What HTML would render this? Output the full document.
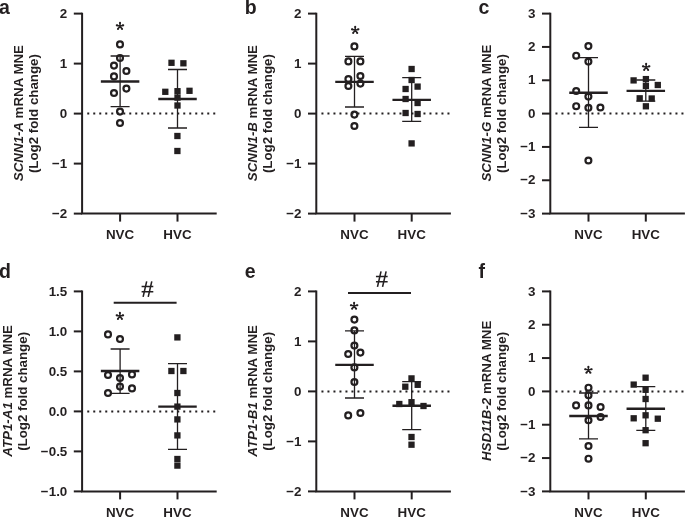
<!DOCTYPE html><html><head><meta charset="utf-8"><style>html,body{margin:0;padding:0;background:#fff;}svg{display:block;will-change:transform}text{font-family:"Liberation Sans",sans-serif;fill:#231f20;}</style></head><body>
<svg width="685" height="517" viewBox="0 0 685 517">
<rect width="685" height="517" fill="#fff"/>
<g><text x="-0.9" y="13.9" font-size="19.5" font-weight="bold">a</text><path d="M82.1 12.7V213.6H216.7" fill="none" stroke="#231f20" stroke-width="2.0" stroke-linejoin="miter"/><path d="M73.8 13.6H82.1" stroke="#231f20" stroke-width="2.0"/><text x="67.3" y="17.8" font-size="13.4" font-weight="bold" text-anchor="end">2</text><path d="M73.8 63.6H82.1" stroke="#231f20" stroke-width="2.0"/><text x="67.3" y="67.8" font-size="13.4" font-weight="bold" text-anchor="end">1</text><path d="M73.8 113.6H82.1" stroke="#231f20" stroke-width="2.0"/><text x="67.3" y="117.8" font-size="13.4" font-weight="bold" text-anchor="end">0</text><path d="M73.8 163.6H82.1" stroke="#231f20" stroke-width="2.0"/><text x="67.3" y="167.8" font-size="13.4" font-weight="bold" text-anchor="end">−1</text><path d="M73.8 213.6H82.1" stroke="#231f20" stroke-width="2.0"/><text x="67.3" y="217.8" font-size="13.4" font-weight="bold" text-anchor="end">−2</text><path d="M120.1 213.6V221.6" stroke="#231f20" stroke-width="2.0"/><text x="120.1" y="238.7" font-size="13.4" font-weight="bold" text-anchor="middle">NVC</text><path d="M177.5 213.6V221.6" stroke="#231f20" stroke-width="2.0"/><text x="177.5" y="238.7" font-size="13.4" font-weight="bold" text-anchor="middle">HVC</text><text transform="translate(22.9 113.1) rotate(-90)" font-size="13.3" font-weight="bold" text-anchor="middle"><tspan font-style="italic">SCNN1-A</tspan> mRNA MNE</text><text transform="translate(38.1 113.6) rotate(-90)" font-size="13.3" font-weight="bold" text-anchor="middle">(Log2 fold change)</text><path d="M87.25 113.6H216.7" stroke="#231f20" stroke-width="2" stroke-dasharray="2 4"/><g fill="#231f20"><path d="M120.5 26.2L121 22.8L119 22.8L119.5 26.2ZM120.14 26.68L123.54 26.22L122.99 24.3L119.86 25.72ZM119.6 26.5L121.25 29.52L122.84 28.31L120.4 25.9ZM119.6 25.9L117.16 28.31L118.75 29.52L120.4 26.5ZM120.14 25.72L117.01 24.3L116.46 26.22L119.86 26.68Z"/><circle cx="120" cy="22.8" r="1.0"/><circle cx="123.27" cy="25.26" r="1.0"/><circle cx="122.05" cy="28.92" r="1.0"/><circle cx="117.95" cy="28.92" r="1.0"/><circle cx="116.73" cy="25.26" r="1.0"/></g><path d="M120.1 56V106.6M110.6 56H129.6M110.6 106.6H129.6" stroke="#231f20" stroke-width="1.3" fill="none"/><path d="M177.5 69.5V128M168 69.5H187M168 128H187" stroke="#231f20" stroke-width="1.3" fill="none"/><circle cx="120" cy="44.4" r="2.95" fill="none" stroke="#231f20" stroke-width="2.2"/><circle cx="120" cy="58" r="2.95" fill="none" stroke="#231f20" stroke-width="2.2"/><circle cx="114" cy="65.6" r="2.95" fill="none" stroke="#231f20" stroke-width="2.2"/><circle cx="126.4" cy="71" r="2.95" fill="none" stroke="#231f20" stroke-width="2.2"/><circle cx="114" cy="76.4" r="2.95" fill="none" stroke="#231f20" stroke-width="2.2"/><circle cx="126.4" cy="88.6" r="2.95" fill="none" stroke="#231f20" stroke-width="2.2"/><circle cx="114" cy="93" r="2.95" fill="none" stroke="#231f20" stroke-width="2.2"/><circle cx="120" cy="111.6" r="2.95" fill="none" stroke="#231f20" stroke-width="2.2"/><circle cx="120" cy="123" r="2.95" fill="none" stroke="#231f20" stroke-width="2.2"/><rect x="168.35" y="59.65" width="6.3" height="6.3" fill="#231f20"/><rect x="180.25" y="60.15" width="6.3" height="6.3" fill="#231f20"/><rect x="162.15" y="88.65" width="6.3" height="6.3" fill="#231f20"/><rect x="174.35" y="88.05" width="6.3" height="6.3" fill="#231f20"/><rect x="186.35" y="87.65" width="6.3" height="6.3" fill="#231f20"/><rect x="174.35" y="94.45" width="6.3" height="6.3" fill="#231f20"/><rect x="174.35" y="102.35" width="6.3" height="6.3" fill="#231f20"/><rect x="174.25" y="132.85" width="6.3" height="6.3" fill="#231f20"/><rect x="174.25" y="147.85" width="6.3" height="6.3" fill="#231f20"/><path d="M100.85 81.5H139.35" stroke="#231f20" stroke-width="2.4"/><path d="M158.25 99H196.75" stroke="#231f20" stroke-width="2.4"/></g>
<g><text x="244.7" y="13.9" font-size="19.5" font-weight="bold">b</text><path d="M316.3 12.7V213.6H450.9" fill="none" stroke="#231f20" stroke-width="2.0" stroke-linejoin="miter"/><path d="M308 13.6H316.3" stroke="#231f20" stroke-width="2.0"/><text x="301.5" y="17.8" font-size="13.4" font-weight="bold" text-anchor="end">2</text><path d="M308 63.6H316.3" stroke="#231f20" stroke-width="2.0"/><text x="301.5" y="67.8" font-size="13.4" font-weight="bold" text-anchor="end">1</text><path d="M308 113.6H316.3" stroke="#231f20" stroke-width="2.0"/><text x="301.5" y="117.8" font-size="13.4" font-weight="bold" text-anchor="end">0</text><path d="M308 163.6H316.3" stroke="#231f20" stroke-width="2.0"/><text x="301.5" y="167.8" font-size="13.4" font-weight="bold" text-anchor="end">−1</text><path d="M308 213.6H316.3" stroke="#231f20" stroke-width="2.0"/><text x="301.5" y="217.8" font-size="13.4" font-weight="bold" text-anchor="end">−2</text><path d="M354.5 213.6V221.6" stroke="#231f20" stroke-width="2.0"/><text x="354.5" y="238.7" font-size="13.4" font-weight="bold" text-anchor="middle">NVC</text><path d="M411.7 213.6V221.6" stroke="#231f20" stroke-width="2.0"/><text x="411.7" y="238.7" font-size="13.4" font-weight="bold" text-anchor="middle">HVC</text><text transform="translate(257.1 113.1) rotate(-90)" font-size="13.3" font-weight="bold" text-anchor="middle"><tspan font-style="italic">SCNN1-B</tspan> mRNA MNE</text><text transform="translate(272.3 113.6) rotate(-90)" font-size="13.3" font-weight="bold" text-anchor="middle">(Log2 fold change)</text><path d="M321.45 113.6H450.9" stroke="#231f20" stroke-width="2" stroke-dasharray="2 4"/><g fill="#231f20"><path d="M355.7 30.2L356.2 26.8L354.2 26.8L354.7 30.2ZM355.34 30.68L358.74 30.22L358.19 28.3L355.06 29.72ZM354.8 30.5L356.45 33.52L358.04 32.31L355.6 29.9ZM354.8 29.9L352.36 32.31L353.95 33.52L355.6 30.5ZM355.34 29.72L352.21 28.3L351.66 30.22L355.06 30.68Z"/><circle cx="355.2" cy="26.8" r="1.0"/><circle cx="358.47" cy="29.26" r="1.0"/><circle cx="357.25" cy="32.92" r="1.0"/><circle cx="353.15" cy="32.92" r="1.0"/><circle cx="351.93" cy="29.26" r="1.0"/></g><path d="M354.5 56.4V107M345 56.4H364M345 107H364" stroke="#231f20" stroke-width="1.3" fill="none"/><path d="M411.7 77.6V121.4M402.2 77.6H421.2M402.2 121.4H421.2" stroke="#231f20" stroke-width="1.3" fill="none"/><circle cx="354.4" cy="46.4" r="2.95" fill="none" stroke="#231f20" stroke-width="2.2"/><circle cx="348.4" cy="61.4" r="2.95" fill="none" stroke="#231f20" stroke-width="2.2"/><circle cx="360.4" cy="61.4" r="2.95" fill="none" stroke="#231f20" stroke-width="2.2"/><circle cx="360.4" cy="76" r="2.95" fill="none" stroke="#231f20" stroke-width="2.2"/><circle cx="348.4" cy="79" r="2.95" fill="none" stroke="#231f20" stroke-width="2.2"/><circle cx="360.4" cy="83.6" r="2.95" fill="none" stroke="#231f20" stroke-width="2.2"/><circle cx="348.4" cy="86" r="2.95" fill="none" stroke="#231f20" stroke-width="2.2"/><circle cx="354.4" cy="114.6" r="2.95" fill="none" stroke="#231f20" stroke-width="2.2"/><circle cx="354.4" cy="126" r="2.95" fill="none" stroke="#231f20" stroke-width="2.2"/><rect x="408.45" y="65.85" width="6.3" height="6.3" fill="#231f20"/><rect x="408.45" y="76.85" width="6.3" height="6.3" fill="#231f20"/><rect x="402.45" y="85.85" width="6.3" height="6.3" fill="#231f20"/><rect x="414.45" y="83.45" width="6.3" height="6.3" fill="#231f20"/><rect x="402.45" y="95.85" width="6.3" height="6.3" fill="#231f20"/><rect x="414.45" y="99.85" width="6.3" height="6.3" fill="#231f20"/><rect x="402.45" y="109.85" width="6.3" height="6.3" fill="#231f20"/><rect x="414.45" y="110.85" width="6.3" height="6.3" fill="#231f20"/><rect x="408.45" y="140.25" width="6.3" height="6.3" fill="#231f20"/><path d="M335.25 81.85H373.75" stroke="#231f20" stroke-width="2.4"/><path d="M392.45 99.85H430.95" stroke="#231f20" stroke-width="2.4"/></g>
<g><text x="478.6" y="13.9" font-size="19.5" font-weight="bold">c</text><path d="M550.3 12.7V213.6H684.9" fill="none" stroke="#231f20" stroke-width="2.0" stroke-linejoin="miter"/><path d="M542 13.6H550.3" stroke="#231f20" stroke-width="2.0"/><text x="535.5" y="17.8" font-size="13.4" font-weight="bold" text-anchor="end">3</text><path d="M542 46.93H550.3" stroke="#231f20" stroke-width="2.0"/><text x="535.5" y="51.13" font-size="13.4" font-weight="bold" text-anchor="end">2</text><path d="M542 80.27H550.3" stroke="#231f20" stroke-width="2.0"/><text x="535.5" y="84.47" font-size="13.4" font-weight="bold" text-anchor="end">1</text><path d="M542 113.6H550.3" stroke="#231f20" stroke-width="2.0"/><text x="535.5" y="117.8" font-size="13.4" font-weight="bold" text-anchor="end">0</text><path d="M542 146.93H550.3" stroke="#231f20" stroke-width="2.0"/><text x="535.5" y="151.13" font-size="13.4" font-weight="bold" text-anchor="end">−1</text><path d="M542 180.27H550.3" stroke="#231f20" stroke-width="2.0"/><text x="535.5" y="184.47" font-size="13.4" font-weight="bold" text-anchor="end">−2</text><path d="M542 213.6H550.3" stroke="#231f20" stroke-width="2.0"/><text x="535.5" y="217.8" font-size="13.4" font-weight="bold" text-anchor="end">−3</text><path d="M588.5 213.6V221.6" stroke="#231f20" stroke-width="2.0"/><text x="588.5" y="238.7" font-size="13.4" font-weight="bold" text-anchor="middle">NVC</text><path d="M645.8 213.6V221.6" stroke="#231f20" stroke-width="2.0"/><text x="645.8" y="238.7" font-size="13.4" font-weight="bold" text-anchor="middle">HVC</text><text transform="translate(491.1 113.1) rotate(-90)" font-size="13.3" font-weight="bold" text-anchor="middle"><tspan font-style="italic">SCNN1-G</tspan> mRNA MNE</text><text transform="translate(506.3 113.6) rotate(-90)" font-size="13.3" font-weight="bold" text-anchor="middle">(Log2 fold change)</text><path d="M555.45 113.6H684.9" stroke="#231f20" stroke-width="2" stroke-dasharray="2 4"/><g fill="#231f20"><path d="M646.65 67.2L647.15 63.8L645.15 63.8L645.65 67.2ZM646.29 67.68L649.69 67.22L649.14 65.3L646.01 66.72ZM645.75 67.5L647.4 70.52L648.99 69.31L646.55 66.9ZM645.75 66.9L643.31 69.31L644.9 70.52L646.55 67.5ZM646.29 66.72L643.16 65.3L642.61 67.22L646.01 67.68Z"/><circle cx="646.15" cy="63.8" r="1.0"/><circle cx="649.42" cy="66.26" r="1.0"/><circle cx="648.2" cy="69.92" r="1.0"/><circle cx="644.1" cy="69.92" r="1.0"/><circle cx="642.88" cy="66.26" r="1.0"/></g><path d="M588.5 57.6V127.4M579 57.6H598M579 127.4H598" stroke="#231f20" stroke-width="1.3" fill="none"/><path d="M645.8 80V101.2M636.3 80H655.3M636.3 101.2H655.3" stroke="#231f20" stroke-width="1.3" fill="none"/><circle cx="588.4" cy="46.1" r="2.95" fill="none" stroke="#231f20" stroke-width="2.2"/><circle cx="576.2" cy="55.7" r="2.95" fill="none" stroke="#231f20" stroke-width="2.2"/><circle cx="588.4" cy="61.6" r="2.95" fill="none" stroke="#231f20" stroke-width="2.2"/><circle cx="576.2" cy="91" r="2.95" fill="none" stroke="#231f20" stroke-width="2.2"/><circle cx="588.4" cy="96.6" r="2.95" fill="none" stroke="#231f20" stroke-width="2.2"/><circle cx="576.2" cy="106.2" r="2.95" fill="none" stroke="#231f20" stroke-width="2.2"/><circle cx="588.4" cy="107.8" r="2.95" fill="none" stroke="#231f20" stroke-width="2.2"/><circle cx="600.4" cy="107.5" r="2.95" fill="none" stroke="#231f20" stroke-width="2.2"/><circle cx="588.4" cy="160.5" r="2.95" fill="none" stroke="#231f20" stroke-width="2.2"/><rect x="630.45" y="77.25" width="6.3" height="6.3" fill="#231f20"/><rect x="642.75" y="75.95" width="6.3" height="6.3" fill="#231f20"/><rect x="642.75" y="82.75" width="6.3" height="6.3" fill="#231f20"/><rect x="654.65" y="81.85" width="6.3" height="6.3" fill="#231f20"/><rect x="636.55" y="95.15" width="6.3" height="6.3" fill="#231f20"/><rect x="648.55" y="95.35" width="6.3" height="6.3" fill="#231f20"/><rect x="642.75" y="103.15" width="6.3" height="6.3" fill="#231f20"/><path d="M569.25 92.7H607.75" stroke="#231f20" stroke-width="2.4"/><path d="M626.55 90.9H665.05" stroke="#231f20" stroke-width="2.4"/></g>
<g><text x="-0.9" y="278.2" font-size="19.5" font-weight="bold">d</text><path d="M82.1 290.5V491.4H216.7" fill="none" stroke="#231f20" stroke-width="2.0" stroke-linejoin="miter"/><path d="M73.8 291.4H82.1" stroke="#231f20" stroke-width="2.0"/><text x="67.3" y="295.6" font-size="13.4" font-weight="bold" text-anchor="end">1.5</text><path d="M73.8 331.4H82.1" stroke="#231f20" stroke-width="2.0"/><text x="67.3" y="335.6" font-size="13.4" font-weight="bold" text-anchor="end">1.0</text><path d="M73.8 371.4H82.1" stroke="#231f20" stroke-width="2.0"/><text x="67.3" y="375.6" font-size="13.4" font-weight="bold" text-anchor="end">0.5</text><path d="M73.8 411.4H82.1" stroke="#231f20" stroke-width="2.0"/><text x="67.3" y="415.6" font-size="13.4" font-weight="bold" text-anchor="end">0.0</text><path d="M73.8 451.4H82.1" stroke="#231f20" stroke-width="2.0"/><text x="67.3" y="455.6" font-size="13.4" font-weight="bold" text-anchor="end">−0.5</text><path d="M73.8 491.4H82.1" stroke="#231f20" stroke-width="2.0"/><text x="67.3" y="495.6" font-size="13.4" font-weight="bold" text-anchor="end">−1.0</text><path d="M120.1 491.4V499.4" stroke="#231f20" stroke-width="2.0"/><text x="120.1" y="516.5" font-size="13.4" font-weight="bold" text-anchor="middle">NVC</text><path d="M177.5 491.4V499.4" stroke="#231f20" stroke-width="2.0"/><text x="177.5" y="516.5" font-size="13.4" font-weight="bold" text-anchor="middle">HVC</text><text transform="translate(11.6 390.9) rotate(-90)" font-size="13.3" font-weight="bold" text-anchor="middle"><tspan font-style="italic">ATP1-A1</tspan> mRNA MNE</text><text transform="translate(26.8 391.4) rotate(-90)" font-size="13.3" font-weight="bold" text-anchor="middle">(Log2 fold change)</text><path d="M87.25 411.4H216.7" stroke="#231f20" stroke-width="2" stroke-dasharray="2 4"/><path d="M113.7 302.8H176.6" stroke="#231f20" stroke-width="2"/><path d="M146.68 281.3L143.12 296.8M151.78 281.3L148.22 296.8M141.6 286.4H153.3M141.6 291.8H153.3" stroke="#231f20" stroke-width="1.55" fill="none"/><g fill="#231f20"><path d="M120.4 316.2L120.9 312.8L118.9 312.8L119.4 316.2ZM120.04 316.68L123.44 316.22L122.89 314.3L119.76 315.72ZM119.5 316.5L121.15 319.52L122.74 318.31L120.3 315.9ZM119.5 315.9L117.06 318.31L118.65 319.52L120.3 316.5ZM120.04 315.72L116.91 314.3L116.36 316.22L119.76 316.68Z"/><circle cx="119.9" cy="312.8" r="1.0"/><circle cx="123.17" cy="315.26" r="1.0"/><circle cx="121.95" cy="318.92" r="1.0"/><circle cx="117.85" cy="318.92" r="1.0"/><circle cx="116.63" cy="315.26" r="1.0"/></g><path d="M120.1 349V393.4M110.6 349H129.6M110.6 393.4H129.6" stroke="#231f20" stroke-width="1.3" fill="none"/><path d="M177.5 363.6V449.4M168 363.6H187M168 449.4H187" stroke="#231f20" stroke-width="1.3" fill="none"/><circle cx="108" cy="334.4" r="2.95" fill="none" stroke="#231f20" stroke-width="2.2"/><circle cx="120" cy="339" r="2.95" fill="none" stroke="#231f20" stroke-width="2.2"/><circle cx="108" cy="375" r="2.95" fill="none" stroke="#231f20" stroke-width="2.2"/><circle cx="120" cy="378" r="2.95" fill="none" stroke="#231f20" stroke-width="2.2"/><circle cx="132" cy="374.4" r="2.95" fill="none" stroke="#231f20" stroke-width="2.2"/><circle cx="120" cy="386.6" r="2.95" fill="none" stroke="#231f20" stroke-width="2.2"/><circle cx="132" cy="388.4" r="2.95" fill="none" stroke="#231f20" stroke-width="2.2"/><circle cx="108" cy="393" r="2.95" fill="none" stroke="#231f20" stroke-width="2.2"/><rect x="174.25" y="334.25" width="6.3" height="6.3" fill="#231f20"/><rect x="168.25" y="367.85" width="6.3" height="6.3" fill="#231f20"/><rect x="180.25" y="367.85" width="6.3" height="6.3" fill="#231f20"/><rect x="174.25" y="389.85" width="6.3" height="6.3" fill="#231f20"/><rect x="174.25" y="403.45" width="6.3" height="6.3" fill="#231f20"/><rect x="174.25" y="416.25" width="6.3" height="6.3" fill="#231f20"/><rect x="174.25" y="432.25" width="6.3" height="6.3" fill="#231f20"/><rect x="174.25" y="455.85" width="6.3" height="6.3" fill="#231f20"/><rect x="174.25" y="462.45" width="6.3" height="6.3" fill="#231f20"/><path d="M100.85 371H139.35" stroke="#231f20" stroke-width="2.4"/><path d="M158.25 406.6H196.75" stroke="#231f20" stroke-width="2.4"/></g>
<g><text x="244.7" y="278.2" font-size="19.5" font-weight="bold">e</text><path d="M316.3 290.5V491.4H450.9" fill="none" stroke="#231f20" stroke-width="2.0" stroke-linejoin="miter"/><path d="M308 291.4H316.3" stroke="#231f20" stroke-width="2.0"/><text x="301.5" y="295.6" font-size="13.4" font-weight="bold" text-anchor="end">2</text><path d="M308 341.4H316.3" stroke="#231f20" stroke-width="2.0"/><text x="301.5" y="345.6" font-size="13.4" font-weight="bold" text-anchor="end">1</text><path d="M308 391.4H316.3" stroke="#231f20" stroke-width="2.0"/><text x="301.5" y="395.6" font-size="13.4" font-weight="bold" text-anchor="end">0</text><path d="M308 441.4H316.3" stroke="#231f20" stroke-width="2.0"/><text x="301.5" y="445.6" font-size="13.4" font-weight="bold" text-anchor="end">−1</text><path d="M308 491.4H316.3" stroke="#231f20" stroke-width="2.0"/><text x="301.5" y="495.6" font-size="13.4" font-weight="bold" text-anchor="end">−2</text><path d="M354.5 491.4V499.4" stroke="#231f20" stroke-width="2.0"/><text x="354.5" y="516.5" font-size="13.4" font-weight="bold" text-anchor="middle">NVC</text><path d="M411.7 491.4V499.4" stroke="#231f20" stroke-width="2.0"/><text x="411.7" y="516.5" font-size="13.4" font-weight="bold" text-anchor="middle">HVC</text><text transform="translate(257.1 390.9) rotate(-90)" font-size="13.3" font-weight="bold" text-anchor="middle"><tspan font-style="italic">ATP1-B1</tspan> mRNA MNE</text><text transform="translate(272.3 391.4) rotate(-90)" font-size="13.3" font-weight="bold" text-anchor="middle">(Log2 fold change)</text><path d="M321.45 391.4H450.9" stroke="#231f20" stroke-width="2" stroke-dasharray="2 4"/><path d="M348 292.95H411" stroke="#231f20" stroke-width="2"/><path d="M381.03 271.3L377.47 286.8M386.13 271.3L382.57 286.8M375.95 276.4H387.65M375.95 281.8H387.65" stroke="#231f20" stroke-width="1.55" fill="none"/><g fill="#231f20"><path d="M354.6 306.1L355.1 302.7L353.1 302.7L353.6 306.1ZM354.24 306.58L357.64 306.12L357.09 304.2L353.96 305.62ZM353.7 306.4L355.35 309.42L356.94 308.21L354.5 305.8ZM353.7 305.8L351.26 308.21L352.85 309.42L354.5 306.4ZM354.24 305.62L351.11 304.2L350.56 306.12L353.96 306.58Z"/><circle cx="354.1" cy="302.7" r="1.0"/><circle cx="357.37" cy="305.16" r="1.0"/><circle cx="356.15" cy="308.82" r="1.0"/><circle cx="352.05" cy="308.82" r="1.0"/><circle cx="350.83" cy="305.16" r="1.0"/></g><path d="M354.5 330.8V398M345 330.8H364M345 398H364" stroke="#231f20" stroke-width="1.3" fill="none"/><path d="M411.7 381.6V429.6M402.2 381.6H421.2M402.2 429.6H421.2" stroke="#231f20" stroke-width="1.3" fill="none"/><circle cx="354.4" cy="319.6" r="2.95" fill="none" stroke="#231f20" stroke-width="2.2"/><circle cx="354.4" cy="330.4" r="2.95" fill="none" stroke="#231f20" stroke-width="2.2"/><circle cx="354.4" cy="345.6" r="2.95" fill="none" stroke="#231f20" stroke-width="2.2"/><circle cx="348.2" cy="354" r="2.95" fill="none" stroke="#231f20" stroke-width="2.2"/><circle cx="360.4" cy="352.6" r="2.95" fill="none" stroke="#231f20" stroke-width="2.2"/><circle cx="354.4" cy="367.4" r="2.95" fill="none" stroke="#231f20" stroke-width="2.2"/><circle cx="354.4" cy="382" r="2.95" fill="none" stroke="#231f20" stroke-width="2.2"/><circle cx="348.2" cy="415.4" r="2.95" fill="none" stroke="#231f20" stroke-width="2.2"/><circle cx="360.4" cy="413" r="2.95" fill="none" stroke="#231f20" stroke-width="2.2"/><rect x="408.35" y="375.25" width="6.3" height="6.3" fill="#231f20"/><rect x="402.15" y="383.55" width="6.3" height="6.3" fill="#231f20"/><rect x="414.55" y="381.65" width="6.3" height="6.3" fill="#231f20"/><rect x="396.15" y="400.85" width="6.3" height="6.3" fill="#231f20"/><rect x="408.35" y="399.05" width="6.3" height="6.3" fill="#231f20"/><rect x="420.35" y="402.85" width="6.3" height="6.3" fill="#231f20"/><rect x="408.35" y="433.85" width="6.3" height="6.3" fill="#231f20"/><rect x="408.35" y="441.55" width="6.3" height="6.3" fill="#231f20"/><path d="M335.25 364.85H373.75" stroke="#231f20" stroke-width="2.4"/><path d="M392.45 405.8H430.95" stroke="#231f20" stroke-width="2.4"/></g>
<g><text x="478.6" y="278.2" font-size="19.5" font-weight="bold">f</text><path d="M550.3 290.5V491.4H684.9" fill="none" stroke="#231f20" stroke-width="2.0" stroke-linejoin="miter"/><path d="M542 291.4H550.3" stroke="#231f20" stroke-width="2.0"/><text x="535.5" y="295.6" font-size="13.4" font-weight="bold" text-anchor="end">3</text><path d="M542 324.73H550.3" stroke="#231f20" stroke-width="2.0"/><text x="535.5" y="328.93" font-size="13.4" font-weight="bold" text-anchor="end">2</text><path d="M542 358.07H550.3" stroke="#231f20" stroke-width="2.0"/><text x="535.5" y="362.27" font-size="13.4" font-weight="bold" text-anchor="end">1</text><path d="M542 391.4H550.3" stroke="#231f20" stroke-width="2.0"/><text x="535.5" y="395.6" font-size="13.4" font-weight="bold" text-anchor="end">0</text><path d="M542 424.73H550.3" stroke="#231f20" stroke-width="2.0"/><text x="535.5" y="428.93" font-size="13.4" font-weight="bold" text-anchor="end">−1</text><path d="M542 458.07H550.3" stroke="#231f20" stroke-width="2.0"/><text x="535.5" y="462.27" font-size="13.4" font-weight="bold" text-anchor="end">−2</text><path d="M542 491.4H550.3" stroke="#231f20" stroke-width="2.0"/><text x="535.5" y="495.6" font-size="13.4" font-weight="bold" text-anchor="end">−3</text><path d="M588.5 491.4V499.4" stroke="#231f20" stroke-width="2.0"/><text x="588.5" y="516.5" font-size="13.4" font-weight="bold" text-anchor="middle">NVC</text><path d="M645.8 491.4V499.4" stroke="#231f20" stroke-width="2.0"/><text x="645.8" y="516.5" font-size="13.4" font-weight="bold" text-anchor="middle">HVC</text><text transform="translate(491.1 390.9) rotate(-90)" font-size="13.3" font-weight="bold" text-anchor="middle"><tspan font-style="italic">HSD11B-2</tspan> mRNA MNE</text><text transform="translate(506.3 391.4) rotate(-90)" font-size="13.3" font-weight="bold" text-anchor="middle">(Log2 fold change)</text><path d="M555.45 391.4H684.9" stroke="#231f20" stroke-width="2" stroke-dasharray="2 4"/><g fill="#231f20"><path d="M588.9 370.1L589.4 366.7L587.4 366.7L587.9 370.1ZM588.54 370.58L591.94 370.12L591.39 368.2L588.26 369.62ZM588 370.4L589.65 373.42L591.24 372.21L588.8 369.8ZM588 369.8L585.56 372.21L587.15 373.42L588.8 370.4ZM588.54 369.62L585.41 368.2L584.86 370.12L588.26 370.58Z"/><circle cx="588.4" cy="366.7" r="1.0"/><circle cx="591.67" cy="369.16" r="1.0"/><circle cx="590.45" cy="372.82" r="1.0"/><circle cx="586.35" cy="372.82" r="1.0"/><circle cx="585.13" cy="369.16" r="1.0"/></g><path d="M588.5 393V438.9M579 393H598M579 438.9H598" stroke="#231f20" stroke-width="1.3" fill="none"/><path d="M645.8 386.6V430.4M636.3 386.6H655.3M636.3 430.4H655.3" stroke="#231f20" stroke-width="1.3" fill="none"/><circle cx="588.5" cy="387.7" r="2.95" fill="none" stroke="#231f20" stroke-width="2.2"/><circle cx="588.5" cy="395.2" r="2.95" fill="none" stroke="#231f20" stroke-width="2.2"/><circle cx="576.1" cy="405.4" r="2.95" fill="none" stroke="#231f20" stroke-width="2.2"/><circle cx="588.5" cy="405.4" r="2.95" fill="none" stroke="#231f20" stroke-width="2.2"/><circle cx="600.6" cy="407" r="2.95" fill="none" stroke="#231f20" stroke-width="2.2"/><circle cx="600.6" cy="417" r="2.95" fill="none" stroke="#231f20" stroke-width="2.2"/><circle cx="588.5" cy="420.3" r="2.95" fill="none" stroke="#231f20" stroke-width="2.2"/><circle cx="588.5" cy="446" r="2.95" fill="none" stroke="#231f20" stroke-width="2.2"/><circle cx="588.5" cy="458.7" r="2.95" fill="none" stroke="#231f20" stroke-width="2.2"/><rect x="642.45" y="374.55" width="6.3" height="6.3" fill="#231f20"/><rect x="630.55" y="381.45" width="6.3" height="6.3" fill="#231f20"/><rect x="642.45" y="386.65" width="6.3" height="6.3" fill="#231f20"/><rect x="642.45" y="395.85" width="6.3" height="6.3" fill="#231f20"/><rect x="630.55" y="415.15" width="6.3" height="6.3" fill="#231f20"/><rect x="642.45" y="412.15" width="6.3" height="6.3" fill="#231f20"/><rect x="654.65" y="415.55" width="6.3" height="6.3" fill="#231f20"/><rect x="642.45" y="427.05" width="6.3" height="6.3" fill="#231f20"/><rect x="642.45" y="440.05" width="6.3" height="6.3" fill="#231f20"/><path d="M569.25 416H607.75" stroke="#231f20" stroke-width="2.4"/><path d="M626.55 408.75H665.05" stroke="#231f20" stroke-width="2.4"/></g>
</svg></body></html>
